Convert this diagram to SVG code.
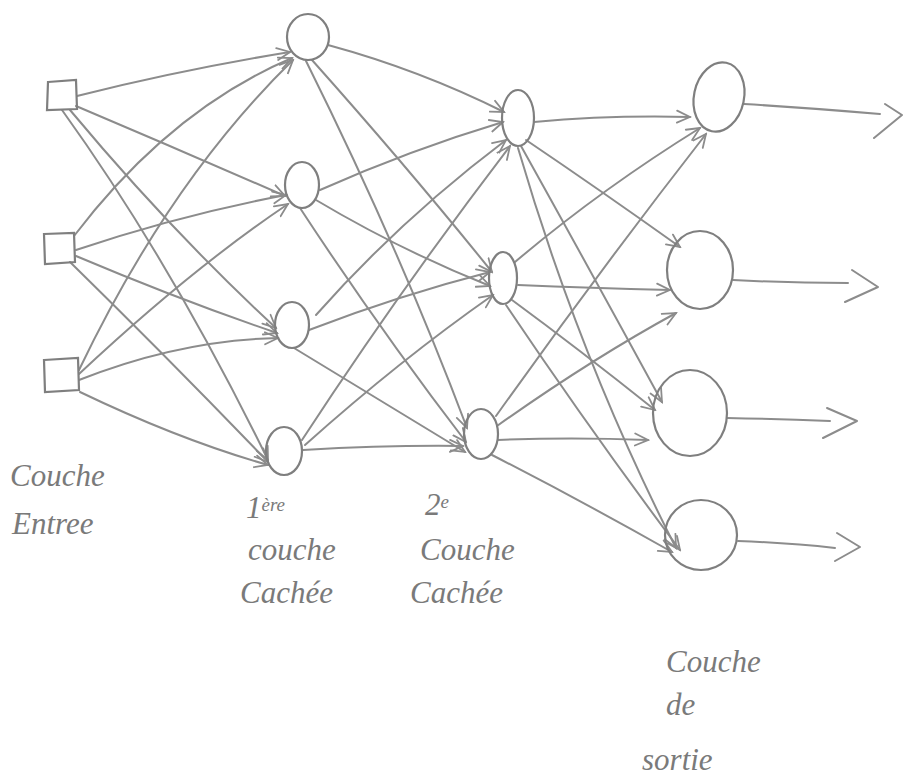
<svg xmlns="http://www.w3.org/2000/svg" width="903" height="782" viewBox="0 0 903 782">
<defs>
<style>
.n{fill:none;stroke:#7f7f7f;stroke-width:2.2;stroke-linecap:round}
.e{fill:none;stroke:#8c8c8c;stroke-width:2;stroke-linecap:round;marker-end:url(#a)}
.o{fill:none;stroke:#8c8c8c;stroke-width:2;stroke-linecap:round;stroke-linejoin:round}
.t{font-family:"Liberation Serif",serif;font-style:italic;fill:#7a7a7a;font-size:31px}
.s{font-size:19px}
</style>
<marker id="a" viewBox="0 0 16 16" refX="14" refY="8" markerWidth="16" markerHeight="16" orient="auto" markerUnits="userSpaceOnUse">
<path d="M1,2 L14,8 L1,14" fill="none" stroke="#8c8c8c" stroke-width="1.8" stroke-linecap="round"/>
</marker>
</defs>
<rect width="903" height="782" fill="#fff"/>
<g id="connectors">
<path class="e" d="M77,96 Q180,70 290,52"/>
<path class="e" d="M76,106 Q180,150 285,196"/>
<path class="e" d="M70,110 Q170,230 276,328"/>
<path class="e" d="M62,110 Q170,260 268,460"/>
<path class="e" d="M74,236 Q170,110 292,58"/>
<path class="e" d="M76,250 Q180,215 286,195"/>
<path class="e" d="M76,256 Q180,300 277,333"/>
<path class="e" d="M70,262 Q170,360 268,462"/>
<path class="e" d="M79,370 Q170,180 293,60"/>
<path class="e" d="M79,374 Q190,270 288,204"/>
<path class="e" d="M79,380 Q180,340 278,338"/>
<path class="e" d="M80,392 Q180,440 268,465"/>
<path class="e" d="M328,45 Q420,70 504,112"/>
<path class="e" d="M312,60 Q410,170 492,272"/>
<path class="e" d="M306,61 Q400,250 467,428"/>
<path class="e" d="M320,190 Q410,150 503,122"/>
<path class="e" d="M316,200 Q400,250 490,286"/>
<path class="e" d="M300,208 Q380,330 466,442"/>
<path class="e" d="M316,315 Q400,220 506,140"/>
<path class="e" d="M309,330 Q400,295 490,272"/>
<path class="e" d="M294,348 Q380,400 465,452"/>
<path class="e" d="M302,440 Q400,290 510,146"/>
<path class="e" d="M305,445 Q400,360 493,295"/>
<path class="e" d="M303,450 Q390,445 463,446"/>
<path class="e" d="M534,122 Q610,115 690,117"/>
<path class="e" d="M526,140 Q600,190 680,247"/>
<path class="e" d="M521,146 Q590,270 662,402"/>
<path class="e" d="M518,148 Q580,360 676,548"/>
<path class="e" d="M515,262 Q600,190 700,128"/>
<path class="e" d="M518,285 Q590,288 670,290"/>
<path class="e" d="M512,300 Q580,350 655,410"/>
<path class="e" d="M506,305 Q590,430 680,550"/>
<path class="e" d="M496,416 Q600,270 706,134"/>
<path class="e" d="M497,426 Q590,360 676,313"/>
<path class="e" d="M498,440 Q570,437 648,440"/>
<path class="e" d="M492,455 Q580,500 672,552"/>
<path class="o" d="M744,104 Q810,108 880,114"/>
<path class="o" d="M885,104 L902,115 L874,138"/>
<path class="o" d="M733,280 Q790,283 848,283"/>
<path class="o" d="M852,270 L878,287 L845,302"/>
<path class="o" d="M727,418 Q780,419 830,421"/>
<path class="o" d="M827,408 L857,421 L823,438"/>
<path class="o" d="M738,541 Q790,543 835,548"/>
<path class="o" d="M837,533 L860,547 L835,561"/>
</g>
<g id="in1"><path class="n" d="M48,82 L76,80 L77,109 L47,110 Z"/></g>
<g id="in2"><path class="n" d="M44,234 L74,233 L75,262 L45,264 Z"/></g>
<g id="in3"><path class="n" d="M44,360 L78,358 L79,390 L45,392 Z"/></g>
<g id="h1a"><ellipse class="n" cx="308" cy="37" rx="21" ry="23"/></g>
<g id="h1b"><ellipse class="n" cx="302" cy="185" rx="17" ry="23"/></g>
<g id="h1c"><ellipse class="n" cx="292" cy="325" rx="17" ry="23"/></g>
<g id="h1d"><ellipse class="n" cx="284" cy="451" rx="18" ry="24"/></g>
<g id="h2a"><ellipse class="n" cx="518" cy="118" rx="16" ry="28"/></g>
<g id="h2b"><ellipse class="n" cx="503" cy="278" rx="14" ry="26"/></g>
<g id="h2c"><ellipse class="n" cx="481" cy="434" rx="17" ry="25"/></g>
<g id="o1"><ellipse class="n" cx="719" cy="97" rx="25" ry="35" transform="rotate(12 719 97)"/></g>
<g id="o2"><ellipse class="n" cx="700" cy="270" rx="33" ry="39"/></g>
<g id="o3"><ellipse class="n" cx="690" cy="413" rx="37" ry="43"/></g>
<g id="o4"><ellipse class="n" cx="701" cy="535" rx="36" ry="35"/></g>
<g id="labels">
<text class="t" x="10" y="486">Couche</text>
<text class="t" x="12" y="534">Entree</text>
<text class="t" x="246" y="518"><tspan>1</tspan><tspan class="s" dy="-7">ère</tspan></text>
<text class="t" x="248" y="560">couche</text>
<text class="t" x="240" y="603">Cachée</text>
<text class="t" x="425" y="515"><tspan>2</tspan><tspan class="s" dy="-7">e</tspan></text>
<text class="t" x="420" y="560">Couche</text>
<text class="t" x="410" y="603">Cachée</text>
<text class="t" x="666" y="672">Couche</text>
<text class="t" x="666" y="715">de</text>
<text class="t" x="642" y="770">sortie</text>
</g>
</svg>
